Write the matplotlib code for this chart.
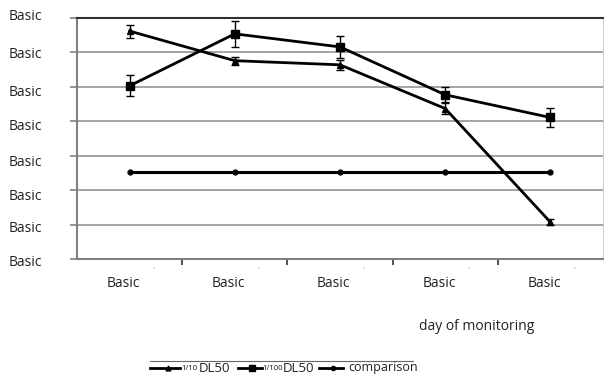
import matplotlib
matplotlib.use("Agg")
import matplotlib.pyplot as plt
from matplotlib.lines import Line2D
import numpy as np

plt.rcParams['font.family'] = ['Open Sans', 'DejaVu Sans']

# Monitoring days (category labels) and y tick labels
categories = ["Basic", "Basic", "Basic", "Basic", "Basic"]
y_tick_labels = ["Basic"] * 8

# Series values with error bars
dose_10 = [6.62, 5.76, 5.64, 4.37, 1.07]
dose_10_err = [0.19, 0.12, 0.15, 0.15, 0.08]
dose_100 = [5.03, 6.54, 6.16, 4.77, 4.11]
dose_100_err = [0.30, 0.37, 0.33, 0.22, 0.27]
comparison = [2.53, 2.53, 2.53, 2.53, 2.53]

W, H = 604, 381
fig = plt.figure(figsize=(W / 100, H / 100), dpi=100)
ax = fig.add_axes([77 / W, 1 - 259 / H, (603 - 77) / W, (259 - 18) / H])

x = np.arange(1, len(categories) + 1)
ax.set_xlim(0.5, len(categories) + 0.5)
ax.set_ylim(0, 7)

# horizontal grid
for yv in range(1, 7):
    ax.axhline(yv, color="#9c9c9c", lw=1.3, zorder=0)

line_kw = dict(color="black", lw=2.0, capsize=3, elinewidth=1.0, capthick=1.0, zorder=3)
ax.errorbar(x, dose_10, yerr=dose_10_err, marker="^", ms=5, **line_kw)
ax.errorbar(x, dose_100, yerr=dose_100_err, marker="s", ms=6, **line_kw)
ax.plot(x, comparison, color="black", lw=2.2, marker="o", ms=3.5, zorder=3)

# spines
for side in ("left", "bottom"):
    ax.spines[side].set_color("#808080")
    ax.spines[side].set_linewidth(1.5)
ax.spines["top"].set_color("#303030")
ax.spines["top"].set_linewidth(1.5)
ax.spines["right"].set_color("#d0d0d0")
ax.spines["right"].set_linewidth(0.8)

# y ticks
ax.set_yticks(range(0, 8))
ax.set_yticklabels([])
ax.tick_params(axis="y", direction="out", length=5, color="#808080", width=1.2)
ylab_pos = [263, 229, 197, 162, 127, 92, 55, 17]
for lab, yp in zip(y_tick_labels, ylab_pos):
    fig.text(9 / W, 1 - yp / H, lab, ha="left", va="center", fontsize=10, color="#222222")

# x ticks at category boundaries
ax.set_xticks(np.arange(1.5, len(categories), 1.0))
ax.set_xticklabels([])
ax.tick_params(axis="x", direction="out", length=4, color="#303030", width=1.2)
for xi, lab in zip(x, categories):
    ax.text(xi - 0.06, -0.72, lab, ha="center", va="center", fontsize=10, color="#222222",
            transform=ax.transData, clip_on=False)
    ax.text(xi + 0.23, -0.3, "''", ha="center", va="center", fontsize=5, color="#bbbbbb",
            transform=ax.transData, clip_on=False)

fig.text(477 / W, 1 - 327 / H, "day of monitoring", ha="center", va="center",
         fontsize=10, color="#222222")

# legend
fig.add_artist(Line2D([150 / W, 413 / W], [1 - 361 / H] * 2, color="#666666", lw=0.8))
ly = 1 - 368 / H
handles = [(150, 180, "^", 3.5), (238, 262, "s", 4), (319, 343, "o", 3)]
for (x0, x1, m, ms) in handles:
    fig.add_artist(Line2D([x0 / W, x1 / W], [ly, ly], color="black", lw=2.0))
    fig.add_artist(Line2D([(x0 + 0.6 * (x1 - x0)) / W], [ly], color="black", marker=m,
                          ms=ms, lw=0))
fig.text(181 / W, ly, "1/10", ha="left", va="center", fontsize=5.5, color="#111111")
fig.text(199 / W, ly, "DL50", ha="left", va="center", fontsize=9.5, color="#222222")
fig.text(262 / W, ly, "1/100", ha="left", va="center", fontsize=5.5, color="#111111")
fig.text(283 / W, ly, "DL50", ha="left", va="center", fontsize=9.5, color="#222222")
fig.text(348 / W, ly, "comparison", ha="left", va="center", fontsize=9, color="#222222")

fig.savefig("out.png", dpi=100)
